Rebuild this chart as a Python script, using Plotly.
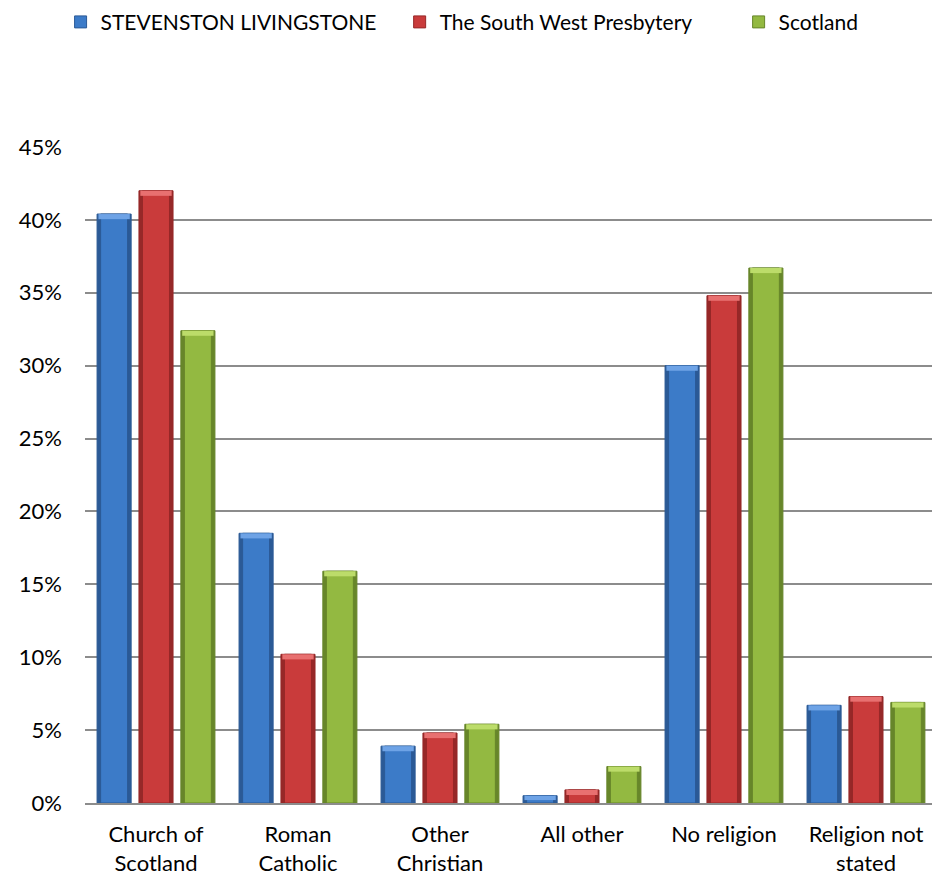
import plotly.graph_objects as go

categories = ["Church of<br>Scotland", "Roman<br>Catholic", "Other<br>Christian",
              "All other", "No religion", "Religion not<br>stated"]
series_names = ["STEVENSTON LIVINGSTONE", "The South West Presbytery", "Scotland"]
stevenston = [40.4, 18.5, 3.9, 0.5, 30.0, 6.7]
south_west = [42.0, 10.2, 4.8, 0.9, 34.8, 7.3]
scotland = [32.4, 15.9, 5.4, 2.5, 36.7, 6.9]
y_tick_values = [0, 5, 10, 15, 20, 25, 30, 35, 40, 45]
y_tick_labels = ["0%", "5%", "10%", "15%", "20%", "25%", "30%", "35%", "40%", "45%"]

series_values = [stevenston, south_west, scotland]
edge_colors = ["#2b5a96", "#962828", "#67862a"]
body_colors = ["#3c7bc8", "#c93b3b", "#93b941"]
cap_colors = ["#6ea3e6", "#e87070", "#bcdc6a"]
centers = [-0.295, 0.0, 0.295]
legend_ids = ["legend", "legend2", "legend3"]
legend_x = [0.065, 0.4288, 0.7925]
bar_w = 0.24
inner_w = 0.19
cap_h = 0.35

FONT = "Lato"
fig = go.Figure()
for name, vals, ec, bc, cc, c, lg in zip(series_names, series_values, edge_colors,
                                         body_colors, cap_colors, centers, legend_ids):
    fig.add_trace(go.Bar(
        x=categories, y=vals, name=name, width=bar_w, offset=c - bar_w / 2,
        marker=dict(color=ec, line=dict(color=ec, width=1)),
        showlegend=False, hoverinfo="skip"))
    fig.add_trace(go.Bar(
        x=categories, y=vals, name=name, width=inner_w, offset=c - inner_w / 2,
        marker=dict(color=bc, line=dict(color=ec, width=1)),
        showlegend=True, legend=lg, hoverinfo="skip"))
    caps = [min(cap_h, v * 0.6) for v in vals]
    fig.add_trace(go.Bar(
        x=categories, y=caps, base=[v - h for v, h in zip(vals, caps)],
        name=name, width=bar_w * 0.92, offset=c - bar_w * 0.46,
        marker=dict(color=cc, line=dict(width=0)),
        showlegend=False, hoverinfo="skip"))

legend_style = dict(orientation="h", xref="container", yref="container",
                    y=0.998, xanchor="left", yanchor="top",
                    font=dict(family=FONT, size=21, color="black"),
                    itemwidth=30, bgcolor="rgba(0,0,0,0)")

fig.update_layout(
    width=932, height=877,
    barmode="overlay",
    paper_bgcolor="white", plot_bgcolor="white",
    margin=dict(l=85, r=0, t=147, b=74),
    font=dict(family=FONT, size=22, color="black"),
    legend=dict(x=legend_x[0], **legend_style),
    legend2=dict(x=legend_x[1], **legend_style),
    legend3=dict(x=legend_x[2], **legend_style),
    xaxis=dict(type="category", range=[-0.5, 5.465], showline=True,
               linecolor="#8c8c8c", linewidth=2, ticks="", showgrid=False,
               tickfont=dict(family=FONT, size=22), ticklabelstandoff=11),
    yaxis=dict(range=[0, 45], tickmode="array", tickvals=y_tick_values,
               ticktext=y_tick_labels,
               showgrid=True, gridcolor="#8c8c8c", gridwidth=1.5,
               zeroline=False, showline=False, ticks="",
               tickfont=dict(family=FONT, size=22), ticklabelstandoff=22),
)

fig.write_html("out.html", config={"displayModeBar": False},
               post_script="document.body.style.margin='0px';")
